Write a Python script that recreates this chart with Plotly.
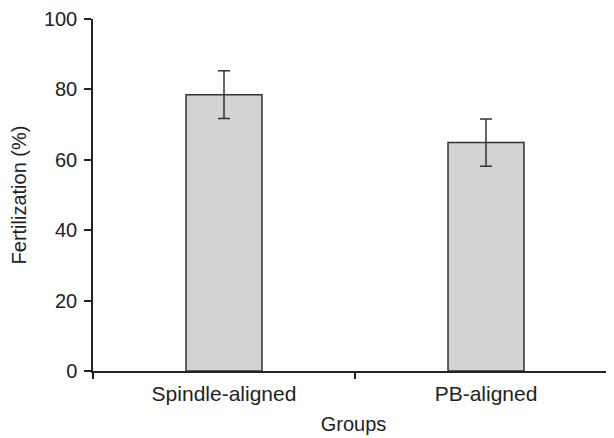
import plotly.graph_objects as go

groups = ["Spindle-aligned", "PB-aligned"]
fertilization = [78.5, 64.9]
error = [6.8, 6.7]
y_ticks = [0, 20, 40, 60, 80, 100]

FONT = "Liberation Sans, Arial, sans-serif"
INK = "#222222"

fig = go.Figure(
    go.Bar(
        x=groups,
        y=fertilization,
        width=0.29,
        marker=dict(color="#d3d3d5", line=dict(color="#333333", width=1.5)),
        error_y=dict(type="data", array=error, visible=True,
                     color="#333333", thickness=1.5, width=6),
    )
)

fig.update_layout(
    width=606, height=430,
    margin=dict(l=85, r=0, t=11, b=67),
    plot_bgcolor="white", paper_bgcolor="white",
    font=dict(family=FONT, size=20, color=INK),
    showlegend=False,
)
fig.update_xaxes(
    type="category",
    range=[-0.5, 1.4885],
    showline=True, linecolor=INK, linewidth=1.5,
    ticks="outside", tickson="boundaries", ticklen=6, tickwidth=1.5, tickcolor=INK,
    showgrid=False, zeroline=False,
    tickfont=dict(size=21, color=INK),
    ticklabelstandoff=3,
    title=dict(text="Groups", font=dict(size=20, color=INK), standoff=13),
    automargin=False,
)
fig.update_yaxes(
    range=[0, 100],
    tickvals=y_ticks,
    showline=True, linecolor=INK, linewidth=1.5,
    ticks="outside", ticklen=7, tickwidth=1.5, tickcolor=INK,
    showgrid=False, zeroline=False,
    tickfont=dict(size=20, color=INK),
    ticklabelstandoff=3,
    title=dict(text="Fertilization (%)", font=dict(size=20, color=INK), standoff=17),
    automargin=False,
)

fig.write_html("out.html")
